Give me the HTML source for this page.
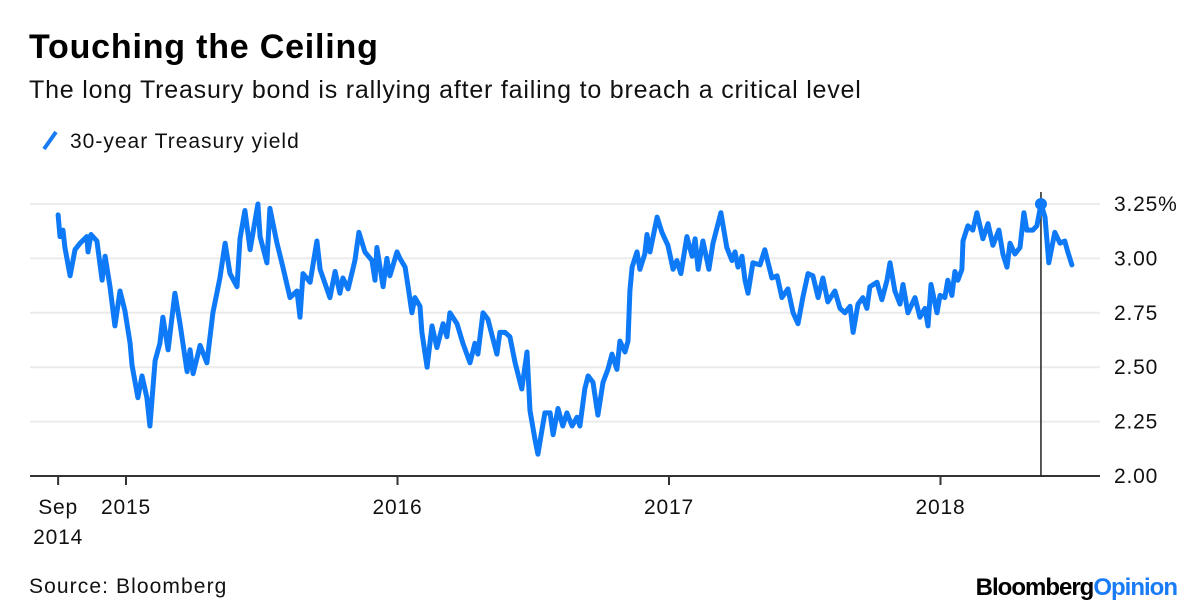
<!DOCTYPE html>
<html><head><meta charset="utf-8"><style>
body{margin:0;background:#fff;width:1200px;height:612px;overflow:hidden;font-family:"Liberation Sans",sans-serif}
svg{display:block}
</style></head><body>
<svg id="chart" width="1200" height="612">
<text x="29" y="58" font-size="34" font-weight="bold" letter-spacing="0.8" fill="#000">Touching the Ceiling</text>
<text x="29" y="98" font-size="25" letter-spacing="0.8" fill="#111">The long Treasury bond is rallying after failing to breach a critical level</text>
<g>
<line x1="44" y1="149" x2="56" y2="132" stroke="#1a7cf5" stroke-width="4"/>
<text x="70" y="148" font-size="21" letter-spacing="1" fill="#111">30-year Treasury yield</text>
</g>
<g id="grid"></g><g id="axes"></g><g id="series"></g>
<text x="29" y="593" font-size="21" letter-spacing="1.1" fill="#111">Source: Bloomberg</text>
<text x="1177" y="595" font-size="24" font-weight="bold" text-anchor="end" letter-spacing="-1"><tspan fill="#000">Bloomberg</tspan><tspan fill="#1a7cf5">Opinion</tspan></text>
</svg>
<script>
const dates=[2014.750,2014.757,2014.768,2014.775,2014.794,2014.812,2014.831,2014.856,2014.860,2014.871,2014.893,2014.912,2014.923,2014.941,2014.959,2014.978,2014.996,2015.015,2015.022,2015.044,2015.059,2015.077,2015.088,2015.107,2015.125,2015.136,2015.155,2015.180,2015.199,2015.225,2015.236,2015.247,2015.273,2015.298,2015.320,2015.346,2015.365,2015.383,2015.409,2015.420,2015.438,2015.457,2015.486,2015.494,2015.519,2015.530,2015.556,2015.578,2015.604,2015.630,2015.641,2015.652,2015.678,2015.703,2015.715,2015.751,2015.770,2015.788,2015.799,2015.818,2015.843,2015.858,2015.880,2015.906,2015.917,2015.924,2015.947,2015.961,2015.972,2015.998,2016.009,2016.028,2016.039,2016.053,2016.064,2016.083,2016.090,2016.109,2016.127,2016.145,2016.168,2016.182,2016.193,2016.219,2016.241,2016.267,2016.285,2016.296,2016.315,2016.333,2016.366,2016.377,2016.396,2016.414,2016.433,2016.458,2016.477,2016.488,2016.506,2016.517,2016.532,2016.543,2016.562,2016.573,2016.591,2016.609,2016.624,2016.643,2016.661,2016.672,2016.690,2016.702,2016.720,2016.738,2016.757,2016.775,2016.790,2016.808,2016.819,2016.838,2016.849,2016.856,2016.864,2016.882,2016.893,2016.911,2016.919,2016.930,2016.956,2016.974,2016.996,2017.015,2017.029,2017.044,2017.066,2017.085,2017.096,2017.107,2017.125,2017.147,2017.162,2017.191,2017.213,2017.232,2017.243,2017.254,2017.269,2017.280,2017.291,2017.309,2017.335,2017.353,2017.379,2017.398,2017.416,2017.438,2017.457,2017.475,2017.493,2017.512,2017.530,2017.549,2017.567,2017.585,2017.611,2017.630,2017.648,2017.667,2017.678,2017.696,2017.714,2017.729,2017.740,2017.766,2017.784,2017.803,2017.814,2017.832,2017.851,2017.862,2017.880,2017.906,2017.924,2017.943,2017.954,2017.965,2017.987,2017.998,2018.016,2018.027,2018.042,2018.053,2018.064,2018.079,2018.083,2018.101,2018.119,2018.134,2018.156,2018.175,2018.193,2018.215,2018.230,2018.245,2018.256,2018.274,2018.293,2018.307,2018.318,2018.340,2018.355,2018.370,2018.385,2018.399,2018.421,2018.440,2018.458,2018.469,2018.484];
const yields=[3.20,3.10,3.13,3.05,2.92,3.04,3.07,3.10,3.03,3.11,3.08,2.90,3.01,2.87,2.69,2.85,2.76,2.61,2.51,2.36,2.46,2.36,2.23,2.53,2.61,2.73,2.58,2.84,2.70,2.48,2.58,2.47,2.60,2.52,2.75,2.91,3.07,2.93,2.87,3.09,3.22,3.04,3.25,3.10,2.98,3.23,3.07,2.96,2.82,2.85,2.73,2.93,2.89,3.08,2.95,2.82,2.94,2.84,2.91,2.86,2.99,3.12,3.03,2.99,2.90,3.05,2.87,3.00,2.92,3.03,3.00,2.96,2.87,2.75,2.82,2.78,2.66,2.50,2.69,2.59,2.70,2.64,2.75,2.70,2.61,2.52,2.61,2.56,2.75,2.72,2.56,2.66,2.66,2.64,2.52,2.40,2.57,2.30,2.17,2.10,2.21,2.29,2.29,2.19,2.31,2.23,2.29,2.23,2.27,2.23,2.40,2.46,2.43,2.28,2.43,2.49,2.56,2.49,2.62,2.57,2.62,2.85,2.96,3.03,2.95,3.02,3.11,3.03,3.19,3.12,3.06,2.95,2.99,2.93,3.10,3.01,3.09,2.95,3.08,2.95,3.07,3.21,3.05,2.99,3.03,2.96,3.01,2.90,2.84,2.98,2.97,3.04,2.91,2.92,2.82,2.86,2.75,2.70,2.82,2.93,2.92,2.82,2.91,2.80,2.85,2.77,2.75,2.78,2.66,2.79,2.82,2.77,2.87,2.89,2.81,2.90,2.98,2.85,2.79,2.88,2.75,2.82,2.73,2.77,2.69,2.88,2.75,2.83,2.82,2.90,2.83,2.94,2.90,2.95,3.08,3.15,3.13,3.21,3.09,3.16,3.06,3.13,3.02,2.96,3.07,3.02,3.05,3.21,3.13,3.13,3.15,3.25,3.19,2.98,3.12,3.07,3.08,3.03,2.97];
const yTicks=[2.00,2.25,2.50,2.75,3.00,3.25];
const yTickLabels=["2.00","2.25","2.50","2.75","3.00","3.25%"];
const xTicks=[2014.75,2015,2016,2017,2018];
const xTickLabels=[["Sep","2014"],["2015"],["2016"],["2017"],["2018"]];
const peakDate=2018.370, peakValue=3.25;

const NS="http://www.w3.org/2000/svg";
const X=d=>126+(d-2015)*271.5;
const Y=v=>476-(v-2)*217.6;
function mk(tag,attrs,parent){const e=document.createElementNS(NS,tag);for(const k in attrs)e.setAttribute(k,attrs[k]);parent.appendChild(e);return e;}
const grid=document.getElementById('grid'),axes=document.getElementById('axes'),series=document.getElementById('series');
yTicks.forEach((t,i)=>{
  if(i>0){const g=mk('line',{x1:30,x2:1100,y1:Y(t),y2:Y(t),stroke:'#ebebeb','stroke-width':2},grid);
  
  }
  const l=mk('text',{x:1114,y:Y(t)+7,'font-size':21,'letter-spacing':0.8,fill:'#111'},axes);l.textContent=yTickLabels[i];
  
  
});
const ax=mk('line',{x1:30,x2:1100,y1:476,y2:476,stroke:'#333','stroke-width':2},axes);


xTicks.forEach((t,i)=>{
  const tk=mk('line',{x1:X(t),x2:X(t),y1:476,y2:485,stroke:'#333','stroke-width':2},axes);
  
  
  xTickLabels[i].forEach((s,j)=>{
    const l=mk('text',{x:X(t),y:514+j*30,'font-size':21,'letter-spacing':0.8,fill:'#111','text-anchor':'middle'},axes);l.textContent=s;
    
    
  });
});
const vl=mk('line',{x1:X(peakDate),x2:X(peakDate),y1:192,y2:476,stroke:'#222','stroke-width':1.5},series);


const p=mk('path',{d:dates.map((d,i)=>(i?'L':'M')+X(d).toFixed(1)+','+Y(yields[i]).toFixed(1)).join(''),fill:'none',stroke:'#0f7af7','stroke-width':5,'stroke-linejoin':'round','stroke-linecap':'round'},series);


const c=mk('circle',{cx:X(peakDate),cy:Y(peakValue),r:6,fill:'#0f7af7'},series);


</script>
</body></html>
